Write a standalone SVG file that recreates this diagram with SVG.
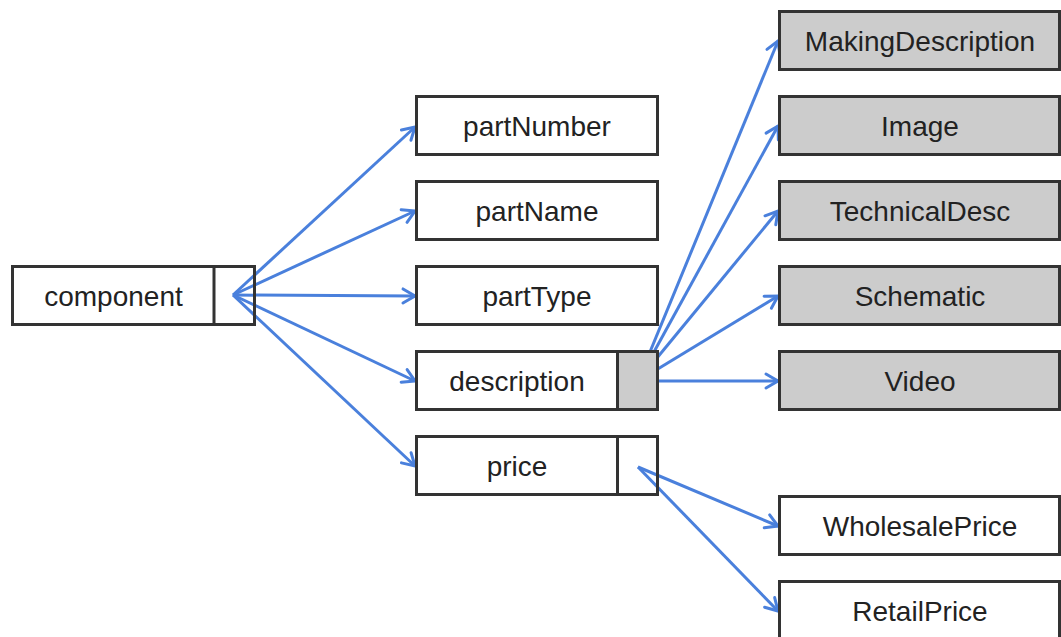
<svg xmlns="http://www.w3.org/2000/svg" width="1061" height="637" viewBox="0 0 1061 637">
<defs>
<marker id="ah" markerUnits="userSpaceOnUse" markerWidth="20" markerHeight="20" refX="0" refY="0" viewBox="-14 -10 16 20" orient="auto" overflow="visible">
<path d="M-12,-7 L0,0 L-12,7" fill="none" stroke="#4a80dc" stroke-width="3" stroke-linejoin="miter" stroke-linecap="round"/>
</marker>
</defs>
<style>
.box{fill:#fff;stroke:#333;stroke-width:3}
.obox{fill:none;stroke:#333;stroke-width:3}
.gbox{fill:#cccccc;stroke:#333;stroke-width:3}
.sub{fill:none;stroke:#333;stroke-width:3}
.gsub{fill:#cccccc;stroke:#333;stroke-width:3}
.lbl{font-family:"Liberation Sans",Arial,sans-serif;font-size:28px;fill:#222;text-anchor:middle}
.con{stroke:#4a80dc;stroke-width:3;fill:none;marker-end:url(#ah)}
</style>
<rect width="1061" height="637" fill="#fff"/>
<g id="connectors">
<line class="con" x1="233" y1="295" x2="415" y2="127"/>
<line class="con" x1="233" y1="295" x2="415" y2="211"/>
<line class="con" x1="233" y1="295" x2="415" y2="296"/>
<line class="con" x1="233" y1="295" x2="415" y2="381"/>
<line class="con" x1="233" y1="295" x2="415" y2="466"/>
<line class="con" x1="638" y1="381" x2="778" y2="41"/>
<line class="con" x1="638" y1="381" x2="778" y2="126"/>
<line class="con" x1="638" y1="381" x2="778" y2="211"/>
<line class="con" x1="638" y1="381" x2="778" y2="296"/>
<line class="con" x1="638" y1="381" x2="778" y2="381"/>
<line class="con" x1="638" y1="467" x2="778" y2="526"/>
<line class="con" x1="638" y1="467" x2="778" y2="611"/>
</g>
<g id="component">
<rect class="obox" x="12.5" y="266.5" width="242" height="58"/>
<line class="sub" x1="214" y1="266.5" x2="214" y2="324.5"/>
<text class="lbl" x="113.5" y="306">component</text>
</g>
<g id="partNumber">
<rect class="box" x="416.5" y="96.5" width="241" height="58"/>
<text class="lbl" x="537" y="136">partNumber</text>
</g>
<g id="partName">
<rect class="box" x="416.5" y="181.5" width="241" height="58"/>
<text class="lbl" x="537" y="221">partName</text>
</g>
<g id="partType">
<rect class="box" x="416.5" y="266.5" width="241" height="58"/>
<text class="lbl" x="537" y="306">partType</text>
</g>
<g id="description">
<rect class="box" x="416.5" y="351.5" width="201" height="58"/>
<rect class="gsub" x="617.5" y="351.5" width="40" height="58"/>
<text class="lbl" x="517" y="391">description</text>
</g>
<g id="price">
<rect class="obox" x="416.5" y="436.5" width="241" height="58"/>
<line class="sub" x1="617.5" y1="436.5" x2="617.5" y2="494.5"/>
<text class="lbl" x="517" y="476">price</text>
</g>
<g id="MakingDescription">
<rect class="gbox" x="779.5" y="11.5" width="280" height="58"/>
<text class="lbl" x="920" y="51">MakingDescription</text>
</g>
<g id="Image">
<rect class="gbox" x="779.5" y="96.5" width="280" height="58"/>
<text class="lbl" x="920" y="136">Image</text>
</g>
<g id="TechnicalDesc">
<rect class="gbox" x="779.5" y="181.5" width="280" height="58"/>
<text class="lbl" x="920" y="221">TechnicalDesc</text>
</g>
<g id="Schematic">
<rect class="gbox" x="779.5" y="266.5" width="280" height="58"/>
<text class="lbl" x="920" y="306">Schematic</text>
</g>
<g id="Video">
<rect class="gbox" x="779.5" y="351.5" width="280" height="58"/>
<text class="lbl" x="920" y="391">Video</text>
</g>
<g id="WholesalePrice">
<rect class="box" x="779.5" y="496.5" width="280" height="58"/>
<text class="lbl" x="920" y="536">WholesalePrice</text>
</g>
<g id="RetailPrice">
<rect class="box" x="779.5" y="581.5" width="280" height="58"/>
<text class="lbl" x="920" y="621">RetailPrice</text>
</g>
</svg>
